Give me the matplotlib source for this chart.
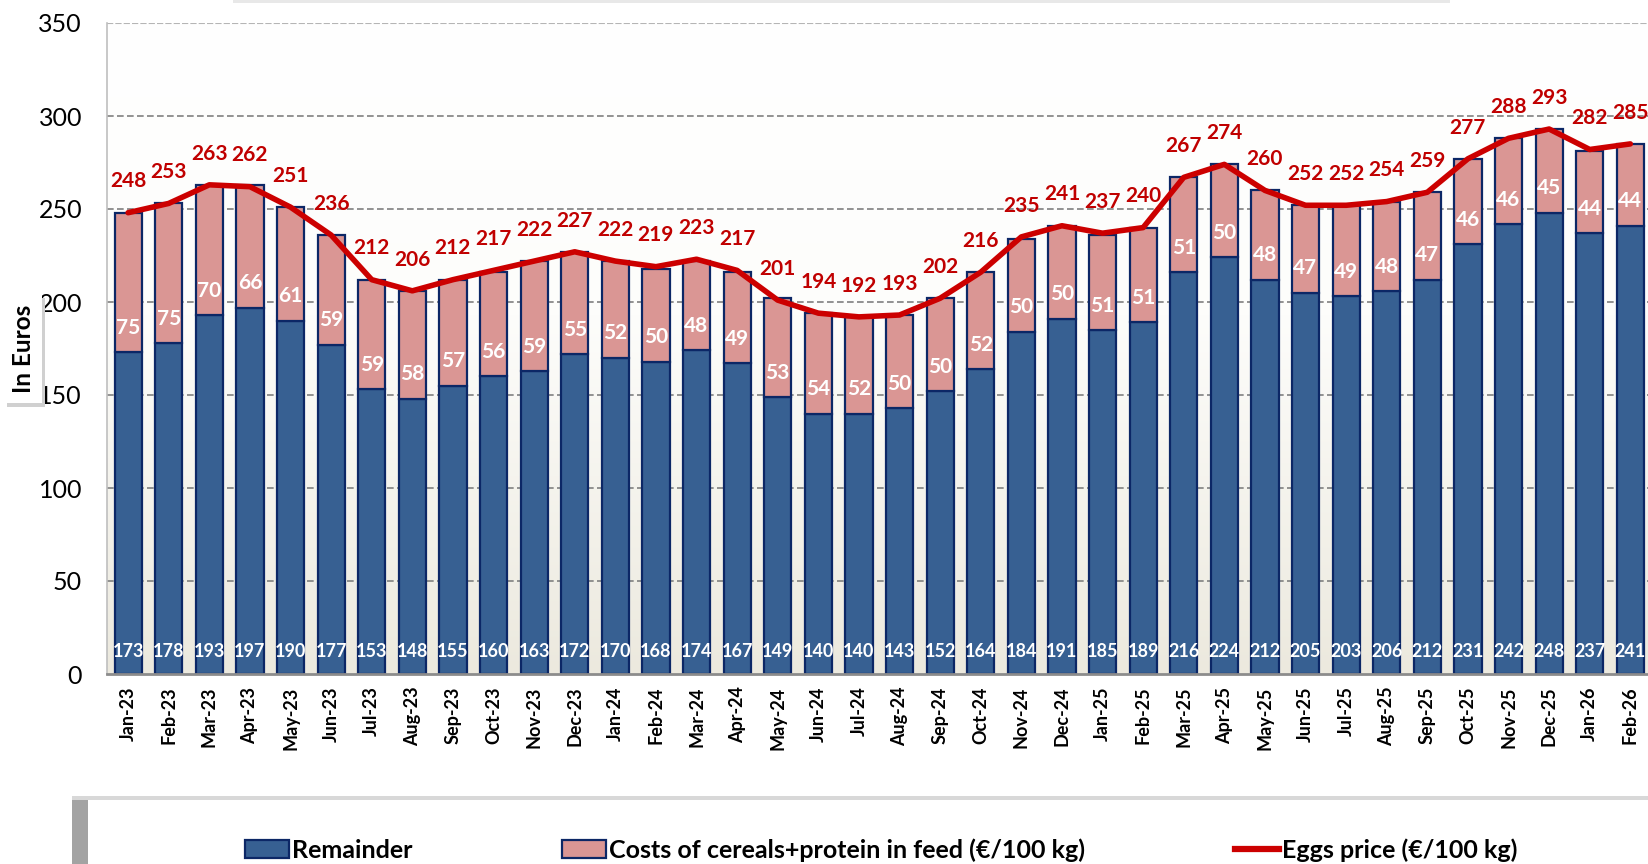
import numpy as np
import matplotlib
matplotlib.use("Agg")
import matplotlib.pyplot as plt
from matplotlib.patches import Rectangle, Patch
from matplotlib.lines import Line2D
from matplotlib.colors import LinearSegmentedColormap

plt.rcParams["font.family"] = ["Lato", "DejaVu Sans"]

# data
months = ["Jan-23", "Feb-23", "Mar-23", "Apr-23", "May-23", "Jun-23", "Jul-23", "Aug-23",
          "Sep-23", "Oct-23", "Nov-23", "Dec-23", "Jan-24", "Feb-24", "Mar-24", "Apr-24",
          "May-24", "Jun-24", "Jul-24", "Aug-24", "Sep-24", "Oct-24", "Nov-24", "Dec-24",
          "Jan-25", "Feb-25", "Mar-25", "Apr-25", "May-25", "Jun-25", "Jul-25", "Aug-25",
          "Sep-25", "Oct-25", "Nov-25", "Dec-25", "Jan-26", "Feb-26"]
remainder = [173, 178, 193, 197, 190, 177, 153, 148, 155, 160, 163, 172,
             170, 168, 174, 167, 149, 140, 140, 143, 152, 164, 184, 191,
             185, 189, 216, 224, 212, 205, 203, 206, 212, 231, 242, 248,
             237, 241]
feed_costs = [75, 75, 70, 66, 61, 59, 59, 58, 57, 56, 59, 55,
              52, 50, 48, 49, 53, 54, 52, 50, 50, 52, 50, 50,
              51, 51, 51, 50, 48, 47, 49, 48, 47, 46, 46, 45,
              44, 44]
eggs_price = [248, 253, 263, 262, 251, 236, 212, 206, 212, 217, 222, 227,
              222, 219, 223, 217, 201, 194, 192, 193, 202, 216, 235, 241,
              237, 240, 267, 274, 260, 252, 252, 254, 259, 277, 288, 293,
              282, 285]
yticks = [0, 50, 100, 150, 200, 250, 300, 350]

W, H = 1649, 864
BLUE = "#376092"
PINK = "#da9694"
EDGE = "#0c2766"
RED = "#cc0000"


def fx(px):
    return px / W


def fy(py):
    return 1 - py / H


fig = plt.figure(figsize=(W / 100, H / 100), dpi=100)

# decorative boxes (cut-off title box at top, legend box, y-label box)
fig.patches.append(Rectangle((fx(233), fy(3)), fx(1450) - fx(233), fy(0) - fy(3),
                             transform=fig.transFigure, fc="#e8e8e8", ec="none", zorder=0))
fig.patches.append(Rectangle((fx(72), fy(864)), 1 - fx(72), fy(796) - fy(864),
                             transform=fig.transFigure, fc="#d8d8d8", ec="none", zorder=0))
fig.patches.append(Rectangle((fx(72), fy(864)), fx(88) - fx(72), fy(800) - fy(864),
                             transform=fig.transFigure, fc="#a3a3a3", ec="none", zorder=0))
fig.patches.append(Rectangle((fx(88), fy(864)), 1 - fx(88), fy(800) - fy(864),
                             transform=fig.transFigure, fc="white", ec="none", zorder=0))
fig.patches.append(Rectangle((fx(7), fy(407)), fx(45) - fx(7), fy(298) - fy(407),
                             transform=fig.transFigure, fc="#d0d0d0", ec="none", zorder=0))
fig.patches.append(Rectangle((fx(4), fy(403)), fx(42) - fx(4), fy(295) - fy(403),
                             transform=fig.transFigure, fc="white", ec="none", zorder=0))

ax = fig.add_axes([fx(107), fy(674), 1 - fx(107), fy(23) - fy(674)])
ax.patch.set_alpha(0)

x = np.arange(len(months))
xmin, xmax = -0.52, 37.46
ax.set_xlim(xmin, xmax)
ax.set_ylim(0, 350)

# plot area gradient
cmap = LinearSegmentedColormap.from_list("bg", [(0, "#ece9de"), (0.55, "#fdfdfb"), (1, "white")])
grad = np.linspace(0, 1, 256).reshape(-1, 1)
ax.imshow(grad, extent=[xmin, xmax, 0, 350], origin="lower", aspect="auto",
          cmap=cmap, zorder=0)

for t in yticks[1:-1]:
    ax.axhline(t, color="#808080", lw=1.2, ls=(0, (4, 2)), zorder=1)
ax.axhline(350, color="#b5b5b5", lw=1.5, ls=(0, (3, 1)), zorder=1)

ax.bar(x, remainder, width=0.67, color=BLUE, edgecolor=EDGE, linewidth=1.6, zorder=2)
ax.bar(x, feed_costs, width=0.67, bottom=remainder, color=PINK, edgecolor=EDGE,
       linewidth=1.6, zorder=2)
ax.plot(x, eggs_price, color=RED, lw=4, solid_joinstyle="round",
        solid_capstyle="round", zorder=4)

for i in range(len(months)):
    ax.annotate(str(remainder[i]), (x[i], 0), xytext=(0, 16.5), textcoords="offset points",
                ha="center", va="center", color="white", fontweight="bold", fontsize=13,
                zorder=5)
    ax.annotate(str(feed_costs[i]), (x[i], remainder[i]), xytext=(0, 17.5),
                textcoords="offset points", ha="center", va="center", color="white",
                fontweight="bold", fontsize=15, zorder=5)
    ax.annotate(str(eggs_price[i]), (x[i], eggs_price[i]), xytext=(0, 22.5),
                textcoords="offset points", ha="center", va="center", color="#c00000",
                fontweight="bold", fontsize=15, zorder=5)

ax.set_yticks(yticks)
ax.set_yticklabels([str(t) for t in yticks], fontsize=18)
ax.set_xticks(x)
ax.set_xticklabels(months, rotation=90, fontsize=13, fontweight="bold")
ax.tick_params(axis="y", length=0, pad=18)
ax.tick_params(axis="x", length=0, pad=9)

for s in ["top", "right"]:
    ax.spines[s].set_visible(False)
ax.spines["left"].set_color("#bfbfbf")
ax.spines["left"].set_linewidth(1.2)
ax.spines["bottom"].set_color("#8c8c8c")
ax.spines["bottom"].set_linewidth(2)
ax.spines["bottom"].set_zorder(3)

fig.text(fx(24), fy(349), "In Euros", rotation=90, ha="center", va="center",
         fontsize=17.5, fontweight="bold")

handles = [Patch(fc=BLUE, ec=EDGE, lw=1.6),
           Patch(fc=PINK, ec=EDGE, lw=1.6),
           Line2D([], [], color=RED, lw=4.5)]
labels = ["Remainder", "Costs of cereals+protein in feed (\u20ac/100 kg)", "Eggs price (\u20ac/100 kg)"]
fig.legend(handles, labels, loc="center", bbox_to_anchor=(fx(881), fy(850)), ncol=3,
           frameon=False, prop={"size": 18, "weight": "bold"},
           handlelength=1.75, handleheight=0.7, handletextpad=0.12, columnspacing=6.0)

fig.savefig("out.png", dpi=100)
